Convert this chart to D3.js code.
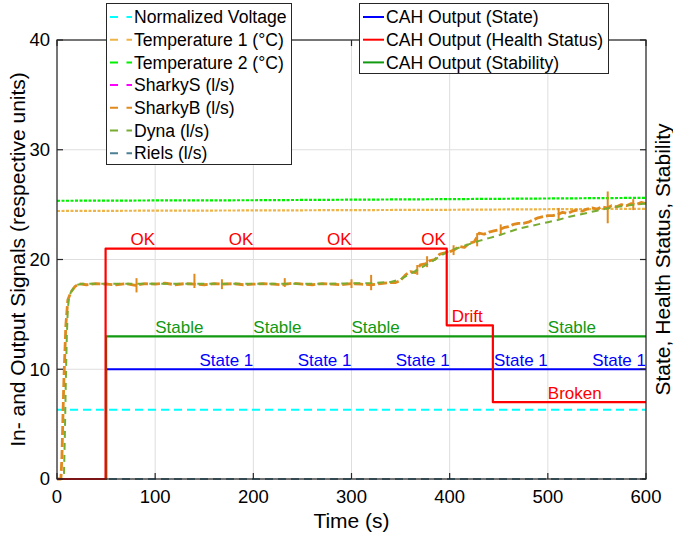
<!DOCTYPE html>
<html><head><meta charset="utf-8">
<script src="https://cdn.jsdelivr.net/npm/d3@7/dist/d3.min.js"></script>
<style>
body{margin:0;background:#fff}
svg{display:block}
text{font-family:"Liberation Sans",Arial,Helvetica,sans-serif;fill:#000}
</style>
</head><body>
<svg id="chart" width="673" height="537"></svg>
<script>
// ---------- data ----------
const xTicks = [0, 100, 200, 300, 400, 500, 600];
const yTicks = [0, 10, 20, 30, 40];

const voltT = [0, 600];
const voltV = [6.3, 6.3];

const temp1T = [0, 100, 200, 300, 400, 500, 600];
const temp1V = [24.42, 24.45, 24.47, 24.5, 24.53, 24.58, 24.62];

const temp2T = [0, 100, 200, 300, 400, 500, 600];
const temp2V = [25.35, 25.38, 25.4, 25.45, 25.5, 25.56, 25.62];

const sharkyST = [0, 600];
const sharkySV = [0, 0];

// SharkyB as [time, value] pairs
const sharkyB = [
  [0, 0], [4, 0], [5, 2], [7, 9], [9, 14], [11, 16.3], [14, 17], [18, 17.5], [22, 17.8],
  [30, 17.7], [40, 17.8], [50, 17.75], [60, 17.7], [70, 17.8], [80, 17.65], [90, 17.8],
  [100, 17.75], [110, 17.85], [120, 17.7], [130, 17.8], [140, 17.75], [150, 17.7],
  [160, 17.8], [170, 17.75], [180, 17.8], [190, 17.7], [200, 17.75], [210, 17.8],
  [220, 17.75], [230, 17.7], [240, 17.85], [250, 17.75], [260, 17.7], [270, 17.8],
  [280, 17.75], [290, 17.7], [300, 17.8], [310, 17.75], [320, 17.7], [330, 17.8],
  [340, 17.9], [345, 17.9], [350, 18.1], [355, 18.6], [360, 18.9], [365, 18.8],
  [370, 19.5], [375, 19.6], [380, 19.9], [385, 20.0], [390, 20.5], [395, 20.6],
  [400, 20.7], [405, 20.9], [410, 21.2], [415, 21.1], [420, 21.5], [425, 21.6],
  [430, 22.4], [435, 22.3], [440, 22.5], [445, 22.6], [450, 22.7], [455, 22.9],
  [460, 23.0], [465, 23.2], [470, 23.3], [475, 23.3], [480, 23.4], [485, 23.6],
  [490, 23.8], [495, 23.9], [500, 24.0], [505, 24.0], [510, 24.1], [515, 24.3],
  [520, 24.2], [525, 24.4], [530, 24.5], [535, 24.4], [540, 24.6], [545, 24.7],
  [550, 24.6], [555, 24.8], [560, 24.7], [565, 24.9], [570, 24.8], [575, 25.0],
  [580, 24.9], [585, 25.1], [590, 25.0], [595, 25.2], [600, 25.1]
];

// SharkyB spikes: time, low, high
const spikeT  = [81, 140, 168, 232, 300, 320, 367, 377, 404, 428, 452, 511, 561, 587];
const spikeLo = [17.0, 17.4, 17.3, 17.5, 17.4, 17.2, 18.6, 19.3, 20.4, 21.2, 22.2, 23.7, 23.3, 24.5];
const spikeHi = [18.3, 18.7, 18.2, 18.3, 18.2, 18.6, 19.5, 20.3, 21.3, 22.4, 23.2, 24.7, 26.2, 25.5];

const dynaT = [0, 7, 8, 9, 10, 11, 12, 14, 17, 21, 26,
  40, 80, 120, 160, 200, 240, 280, 320,
  340, 350, 360, 370, 380, 390, 400, 410, 420, 430,
  440, 450, 460, 470, 480, 490, 500, 510, 520, 530,
  540, 550, 560, 570, 580, 590, 600];
const dynaV = [0, 0, 4, 9, 13, 15.5, 16.3, 17, 17.4, 17.7, 17.8,
  17.8, 17.8, 17.8, 17.8, 17.8, 17.8, 17.8, 17.85,
  17.95, 18.2, 18.7, 19.2, 19.7, 20.3, 20.8, 21.1, 21.4, 21.7,
  21.95, 22.2, 22.5, 22.8, 23.0, 23.2, 23.4, 23.6, 23.85, 24.05,
  24.25, 24.45, 24.65, 24.8, 24.9, 25.0, 25.1];

const rielsT = [0, 600];
const rielsV = [0, 0];

const stateT = [0, 50, 50, 600];
const stateV = [0, 0, 10, 10];
const healthT = [0, 49.5, 49.5, 397, 397, 444, 444, 600];
const healthV = [0, 0, 21, 21, 14, 14, 7, 7];
const stabT = [0, 50, 50, 600];
const stabV = [0, 0, 13, 13];

// annotations
const okT = [100, 200, 300, 396];
const driftT = [402];
const brokenT = [500];
const stableT = [100, 200, 300, 500];
const stateLblT = [200, 300, 400, 500, 600];

const signalNames = ["Normalized Voltage", "Temperature 1 (\u00B0C)", "Temperature 2 (\u00B0C)",
  "SharkyS (l/s)", "SharkyB (l/s)", "Dyna (l/s)", "Riels (l/s)"];
const cahNames = ["CAH Output (State)", "CAH Output (Health Status)", "CAH Output (Stability)"];

// ---------- styles ----------
const C = {
  volt: "#00FFFF", temp1: "#EDB44A", temp2: "#00F000", sharkyS: "#FF00FF",
  sharkyB: "#E08A1E", dyna: "#77AC30", riels: "#4D8095",
  state: "#0000FF", health: "#FF0000", stab: "#119911"
};

const svg = d3.select("#chart");
const L = 57, R = 646, T = 40, B = 479;
const x = d3.scaleLinear().domain([0, 600]).range([L, R]);
const y = d3.scaleLinear().domain([0, 40]).range([B, T]);

// grid
const g = svg.append("g");
g.selectAll("line.gx").data(xTicks).join("line")
  .attr("x1", d => x(d)).attr("x2", d => x(d)).attr("y1", T).attr("y2", B)
  .attr("stroke", "#dedede").attr("stroke-width", 1);
g.selectAll("line.gy").data(yTicks).join("line").attr("class", "gy")
  .attr("x1", L).attr("x2", R).attr("y1", d => y(d)).attr("y2", d => y(d))
  .attr("stroke", "#dedede").attr("stroke-width", 1);

const pts = (ts, vs) => ts.map((t, i) => [t, vs[i]]);
const line = d3.line().x(d => x(d[0])).y(d => y(d[1]));

function drawPts(p, color, w, dash) {
  svg.append("path").datum(p)
    .attr("d", line).attr("fill", "none").attr("stroke", color)
    .attr("stroke-width", w).attr("stroke-dasharray", dash || null)
    .attr("stroke-linejoin", "round");
}
const draw = (ts, vs, color, w, dash) => drawPts(pts(ts, vs), color, w, dash);

draw(voltT, voltV, C.volt, 2, "8,5");
draw(temp1T, temp1V, C.temp1, 2.2, "3,1.5");
draw(temp2T, temp2V, C.temp2, 2.2, "3,1.5");
draw(sharkyST, sharkySV, C.sharkyS, 2, "8,5");
drawPts(sharkyB, C.sharkyB, 2.8, "9,3");
svg.append("g").selectAll("line").data(spikeT).join("line")
  .attr("x1", d => x(d)).attr("x2", d => x(d))
  .attr("y1", (d, i) => y(spikeLo[i])).attr("y2", (d, i) => y(spikeHi[i]))
  .attr("stroke", C.sharkyB).attr("stroke-width", 2);
draw(dynaT, dynaV, C.dyna, 2, "7,5");
draw(rielsT, rielsV, C.riels, 2, "8,5");
draw(stateT, stateV, C.state, 2.2);
draw(stabT, stabV, C.stab, 2.2);
draw(healthT, healthV, C.health, 2.2);

// annotations
function ann(ts, val, txt, color, anchor) {
  svg.append("g").selectAll("text").data(ts).join("text")
    .attr("x", d => x(d)).attr("y", y(val) - 3.5)
    .attr("text-anchor", anchor).attr("font-size", 17)
    .style("fill", color).text(txt);
}
ann(okT, 21, "OK", C.health, "end");
ann(driftT, 14, "Drift", C.health, "start");
ann(brokenT, 7, "Broken", C.health, "start");
ann(stableT, 13, "Stable", C.stab, "start");
ann(stateLblT, 10, "State 1", C.state, "end");

// axes box
const ax = svg.append("g").attr("stroke", "#262626").attr("stroke-width", 1.2);
ax.append("rect").attr("x", L).attr("y", T).attr("width", R - L).attr("height", B - T).attr("fill", "none");
yTicks.forEach(v => {
  ax.append("line").attr("x1", L).attr("x2", L + 6).attr("y1", y(v)).attr("y2", y(v));
  ax.append("line").attr("x1", R).attr("x2", R - 6).attr("y1", y(v)).attr("y2", y(v));
});
xTicks.forEach(v => {
  ax.append("line").attr("x1", x(v)).attr("x2", x(v)).attr("y1", B).attr("y2", B - 6);
  ax.append("line").attr("x1", x(v)).attr("x2", x(v)).attr("y1", T).attr("y2", T + 6);
});

// tick labels
svg.append("g").selectAll("text").data(yTicks).join("text")
  .attr("x", L - 7).attr("y", d => y(d)).attr("dy", "0.35em")
  .attr("text-anchor", "end").attr("font-size", 18.5).text(d => d);
svg.append("g").selectAll("text").data(xTicks).join("text")
  .attr("x", d => x(d)).attr("y", B + 18).attr("dy", "0.35em")
  .attr("text-anchor", "middle").attr("font-size", 18.5).text(d => d);

// axis labels
svg.append("text").attr("x", (L + R) / 2).attr("y", 521).attr("dy", "0.35em")
  .attr("text-anchor", "middle").attr("font-size", 21).text("Time (s)");
svg.append("text").attr("transform", `translate(18,${(T + B) / 2}) rotate(-90)`)
  .attr("dy", "0.35em").attr("text-anchor", "middle").attr("font-size", 21)
  .text("In- and Output Signals (respective units)");
svg.append("text").attr("transform", `translate(663,${(T + B) / 2}) rotate(-90)`)
  .attr("dy", "0.35em").attr("text-anchor", "middle").attr("font-size", 21)
  .text("State, Health Status, Stability");

// legend 1
const sigColors = [C.volt, C.temp1, C.temp2, C.sharkyS, C.sharkyB, C.dyna, C.riels];
const lg1 = svg.append("g");
lg1.append("rect").attr("x", 106.5).attr("y", 3.5).attr("width", 185).attr("height", 161)
  .attr("fill", "#fff").attr("stroke", "#262626").attr("stroke-width", 1);
signalNames.forEach((n, i) => {
  const cy = 17 + i * 22.7;
  lg1.append("line").attr("x1", 110).attr("x2", 132).attr("y1", cy).attr("y2", cy)
    .attr("stroke", sigColors[i]).attr("stroke-width", 2).attr("stroke-dasharray", "8,8.5");
  lg1.append("text").attr("x", 134).attr("y", cy).attr("dy", "0.35em")
    .attr("font-size", 17.6).text(n);
});

// legend 2
const cahColors = [C.state, C.health, C.stab];
const lg2 = svg.append("g");
lg2.append("rect").attr("x", 359.5).attr("y", 3.5).attr("width", 249).attr("height", 70)
  .attr("fill", "#fff").attr("stroke", "#262626").attr("stroke-width", 1);
cahNames.forEach((n, i) => {
  const cy = 17 + i * 22.7;
  lg2.append("line").attr("x1", 363).attr("x2", 384).attr("y1", cy).attr("y2", cy)
    .attr("stroke", cahColors[i]).attr("stroke-width", 2);
  lg2.append("text").attr("x", 386).attr("y", cy).attr("dy", "0.35em")
    .attr("font-size", 17.6).text(n);
});
</script>
</body></html>
